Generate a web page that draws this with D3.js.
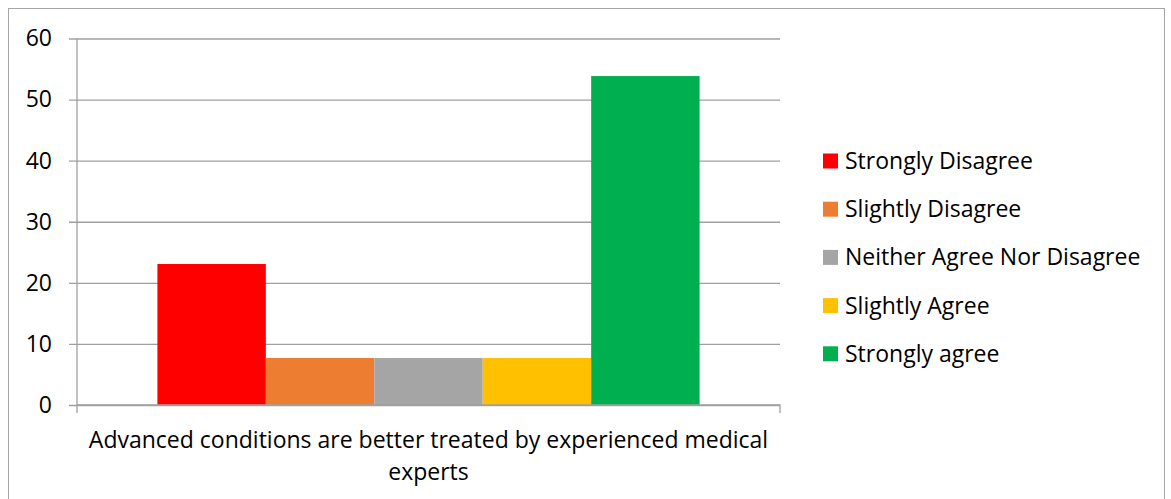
<!DOCTYPE html>
<html>
<head>
<meta charset="utf-8">
<script src="https://cdn.jsdelivr.net/npm/d3@7"></script>
<style>
  body { margin: 0; background: #fff; }
  svg text { font-family: "Open Sans", sans-serif; fill: #000; }
</style>
</head>
<body>
<div id="theChart"></div>
<script>
const category = "Advanced conditions are better treated by experienced medical experts"
const categoryLines = ["Advanced conditions are better treated by experienced medical", "experts"]
const series = ["Strongly Disagree", "Slightly Disagree", "Neither Agree Nor Disagree", "Slightly Agree", "Strongly agree"]
const values = [23.08, 7.69, 7.69, 7.69, 53.85]
const colors = ["#ff0000", "#ed7d31", "#a5a5a5", "#ffc000", "#00b050"]
const yTicks = [0, 10, 20, 30, 40, 50, 60]

const w = 1171
const h = 499
const margin = { left: 77, right: 391, top: 38.5, bottom: 94 }
const fontSize = "23px"

const svg = d3.select("#theChart")
	.append("svg")
	.attr("width", w)
	.attr("height", h)

// outer chart border
svg.append("rect")
	.attr("x", 8.5)
	.attr("y", 8.5)
	.attr("width", 1156)
	.attr("height", 500)
	.attr("fill", "none")
	.attr("stroke", "#a6a6a6")

const y = d3.scaleLinear().domain([0, 60]).range([h - margin.bottom, margin.top])

const x0 = d3.scaleBand()
	.domain([category])
	.range([margin.left, w - margin.right])
	.paddingInner(0)
	.paddingOuter(0.1483)

const x1 = d3.scaleBand()
	.domain(series)
	.range([0, x0.bandwidth()])

// gridlines + y axis
const yAxis = d3.axisLeft(y)
	.tickValues(yTicks)
	.tickSize(-(w - margin.right - margin.left))
	.tickPadding(25)
	.tickFormat(d3.format("d"))

const gy = svg.append("g")
	.attr("transform", `translate(${margin.left},0)`)
	.call(yAxis)
gy.select(".domain").remove()
gy.selectAll(".tick line")
	.attr("x1", -8)
	.attr("stroke", "#a0a0a0")
	.attr("stroke-width", 1.3)
gy.selectAll(".tick text")
	.style("font-size", fontSize)
	.attr("fill", "#000")

svg.append("line")
	.attr("x1", margin.left)
	.attr("x2", margin.left)
	.attr("y1", y(60))
	.attr("y2", y(0) + 8)
	.attr("stroke", "#a0a0a0")
	.attr("stroke-width", 1.3)

// bars
svg.append("g")
	.selectAll("rect")
	.data(values)
	.join("rect")
	.attr("x", (d, i) => x0(category) + x1(series[i]))
	.attr("y", d => y(d))
	.attr("width", x1.bandwidth())
	.attr("height", d => y(0) - y(d))
	.attr("fill", (d, i) => colors[i])

// x axis
const xAxis = d3.axisBottom(x0).tickSize(0).tickFormat("")
const gx = svg.append("g")
	.attr("transform", `translate(0,${y(0)})`)
	.call(xAxis)
gx.select(".domain")
	.attr("d", `M${margin.left},0H${w - margin.right}V8`)
	.attr("stroke", "#a0a0a0")
	.attr("stroke-width", 1.3)

const label = svg.append("text")
	.attr("text-anchor", "middle")
	.style("font-size", fontSize)
label.selectAll("tspan")
	.data(categoryLines)
	.join("tspan")
	.attr("x", x0(category) + x0.bandwidth() / 2)
	.attr("y", (d, i) => y(0) + 43 + i * 32)
	.text(d => d)

// legend
const legend = svg.append("g")
	.attr("transform", "translate(823,161)")
const item = legend.selectAll("g")
	.data(series)
	.join("g")
	.attr("transform", (d, i) => `translate(0,${i * 48.2})`)
item.append("rect")
	.attr("x", 0)
	.attr("y", -7.5)
	.attr("width", 15)
	.attr("height", 15)
	.attr("fill", (d, i) => colors[i])
item.append("text")
	.attr("x", 22)
	.attr("dy", "0.35em")
	.style("font-size", fontSize)
	.text(d => d)
</script>
</body>
</html>
